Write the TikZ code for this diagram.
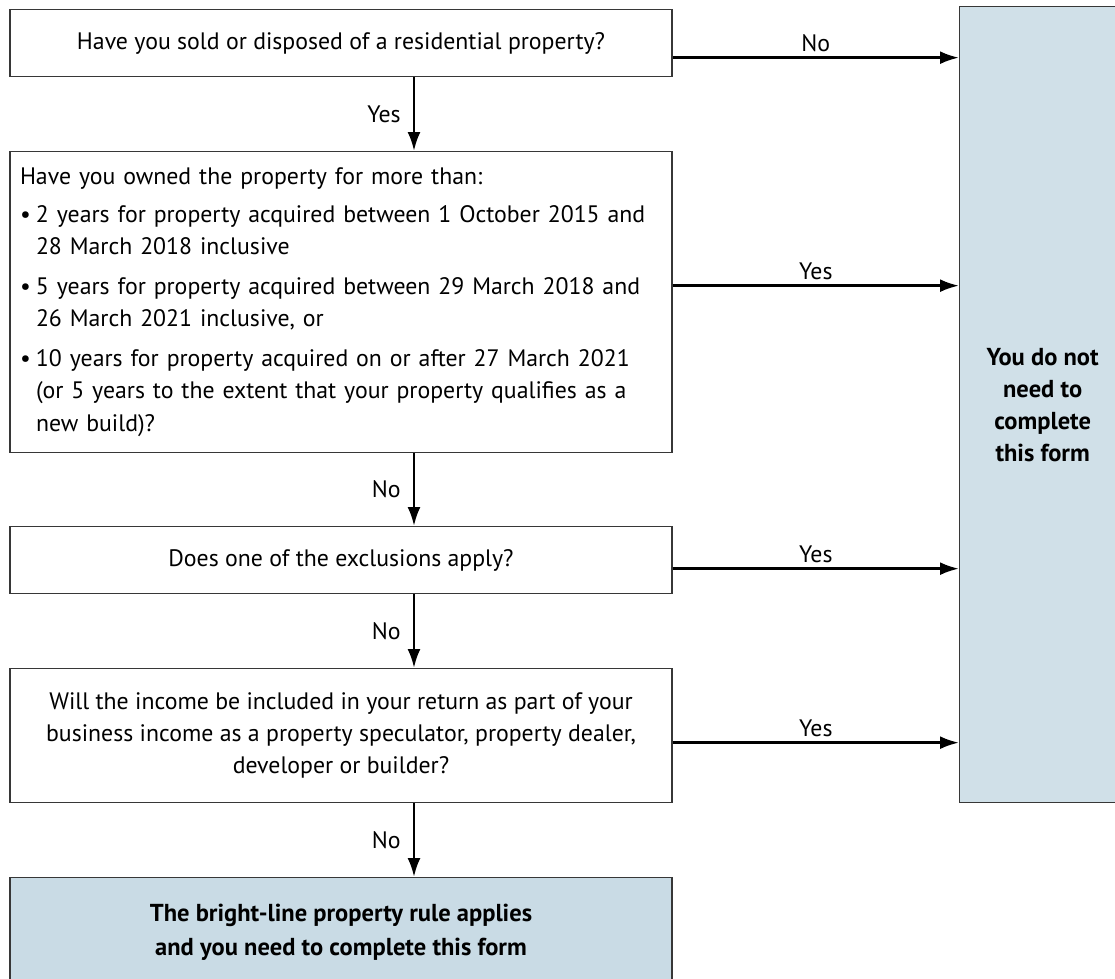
\documentclass[tikz,border=0pt]{standalone}
\usepackage{fontspec}
\setmainfont{PT Sans}
\usetikzlibrary{positioning}
\usetikzlibrary{arrows.meta}
\usetikzlibrary{calc}

\definecolor{formblue}{RGB}{208,224,232}
\definecolor{ruleblue}{RGB}{201,219,229}
\definecolor{boxline}{RGB}{55,55,55}

\newcommand{\bul}{\makebox[16pt][l]{\textbullet}}
\newcommand{\ind}{\hspace*{16pt}}

\tikzset{
  question/.style={draw=boxline, line width=1.3pt, minimum width=662pt, inner sep=0pt,
    anchor=north, align=center, font=\fontsize{23.8}{32}\selectfont},
  result/.style={question, fill=ruleblue, font=\fontsize{24.5}{34}\selectfont\bfseries},
  flow/.style={line width=2.7pt, -{Latex[length=19pt,width=13pt]}},
  answer/.style={font=\fontsize{23.8}{26}\selectfont, inner sep=5pt}
}

\begin{document}
\begin{tikzpicture}[x=1pt, y=1pt]
  \useasboundingbox (0,0) rectangle (1115,-978);

  % the questions, top to bottom
  \node[question, minimum height=67pt] (q1) at (341,-9)
    {Have you sold or disposed of a residential property?};
  \node[question, minimum height=301pt, text width=642pt, inner xsep=10pt, align=left,
    font=\fontsize{23.8}{32.5}\selectfont] (q2) at (341,-151)
    {Have you owned the property for more than:\\[5.5pt]
     \bul 2 years for property acquired between 1 October 2015 and\\
     \ind 28 March 2018 inclusive\\[7pt]
     \bul 5 years for property acquired between 29 March 2018 and\\
     \ind 26 March 2021 inclusive, or\\[7pt]
     \bul 10 years for property acquired on or after 27 March 2021\\
     \ind (or 5 years to the extent that your property qualifies as a\\
     \ind new build)?};
  \node[question, minimum height=67pt] (q3) at (341,-526)
    {Does one of the exclusions apply?};
  \node[question, minimum height=134pt] (q4) at (341,-668)
    {Will the income be included in your return as part of your\\
     business income as a property speculator, property dealer,\\
     developer or builder?};

  % the two outcomes
  \node[result, minimum height=110pt] (rule) at (341,-877)
    {The bright-line property rule applies\\and you need to complete this form};
  \node[result, fill=formblue, minimum width=166pt, minimum height=796pt, anchor=north west,
    font=\fontsize{24.5}{32}\selectfont\bfseries] (out) at (959,-6)
    {You do not\\need to\\complete\\this form};

  % down the left column
  \draw[flow] ([xshift=73pt]q1.south) -- ([xshift=73pt]q2.north) node[answer, midway, left=7pt] {Yes};
  \draw[flow] ([xshift=73pt]q2.south) -- ([xshift=73pt]q3.north) node[answer, midway, left=7pt] {No};
  \draw[flow] ([xshift=73pt]q3.south) -- ([xshift=73pt]q4.north) node[answer, midway, left=7pt] {No};
  \draw[flow] ([xshift=73pt]q4.south) -- ([xshift=73pt]rule.north) node[answer, midway, left=7pt] {No};

  % across to the right
  \draw[flow] ([yshift=-14.5pt]q1.east) -- ([yshift=-14.5pt]q1.east -| out.west) node[answer, midway, above] {No};
  \draw[flow] ([yshift=16.5pt]q2.east) -- ([yshift=16.5pt]q2.east -| out.west) node[answer, midway, above] {Yes};
  \draw[flow] ([yshift=-8.5pt]q3.east) -- ([yshift=-8.5pt]q3.east -| out.west) node[answer, midway, above] {Yes};
  \draw[flow] ([yshift=-7pt]q4.east) -- ([yshift=-7pt]q4.east -| out.west) node[answer, midway, above] {Yes};
\end{tikzpicture}
\end{document}
